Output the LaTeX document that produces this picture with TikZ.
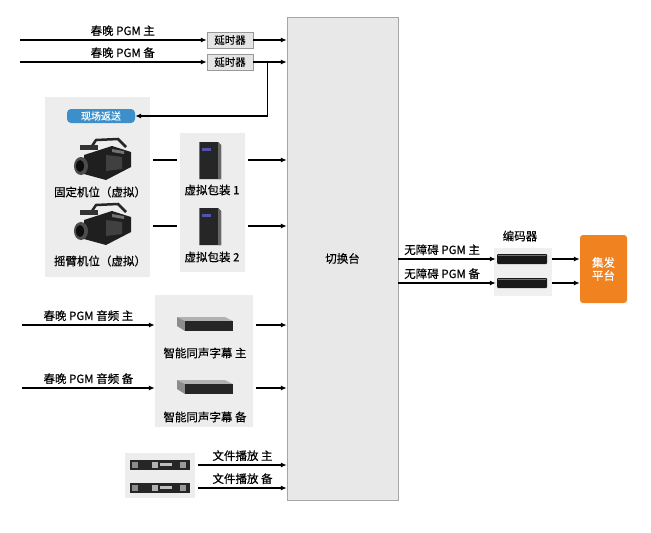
\documentclass[tikz,border=0pt]{standalone}
\usepackage{fontspec}
\setmainfont{Noto Sans CJK SC}[FakeBold=0.3]
\usetikzlibrary{arrows.meta, positioning, calc}

\definecolor{panelgray}{HTML}{EDEDED}
\definecolor{swgray}{HTML}{E8E8E8}
\definecolor{fbblue}{HTML}{3C8FC9}
\definecolor{platorange}{HTML}{F18220}

\begin{document}
\begin{tikzpicture}[
	x=1pt, y=-1pt,
	font=\fontsize{11.5}{13}\selectfont,
	panel/.style={fill=panelgray, draw=none, inner sep=0},
	switcher/.style={fill=swgray, draw=black!35, inner sep=0},
	delaybox/.style={fill=black!10, draw=black!40, minimum width=46, minimum height=16, inner sep=0, font=\fontsize{10.5}{11}\selectfont},
	fbbox/.style={fill=fbblue, text=white, rounded corners=4pt, minimum width=68, minimum height=14, inner sep=0, font=\fontsize{10}{11}\selectfont},
	platbox/.style={fill=platorange, text=white, rounded corners=3pt, minimum width=47, minimum height=68, align=center, inner sep=0},
	arrow/.style={-{Latex[length=6pt,width=5pt]}, line width=1.3pt},
	link/.style={line width=1.3pt},
	camera/.style={minimum width=62, minimum height=46, inner sep=0, path picture={
		\begin{scope}[shift={(path picture bounding box.center)}]
			\draw[black!85, line width=2.5pt] (-12,-10) -- (-6,-19) -- (16,-20) -- (24,-12);
			\fill[black!80, rotate=-20] (-22,-14) rectangle (-4,-9);
			\fill[black!88] (-18,-4) -- (10,-13) -- (29,-7) -- (29,8) -- (4,21) -- (-18,15) -- cycle;
			\fill[black!75] (4,-4) -- (20,-2) -- (20,10) -- (4,12) -- cycle;
			\fill[black!70] (-21,7) ellipse (7 and 9);
			\fill[black!95] (-22,7) ellipse (4 and 6);
			\fill[black!55] (10,-10) -- (22,-8) -- (22,-5) -- (10,-7) -- cycle;
		\end{scope}}},
	server/.style={minimum width=26, minimum height=40, inner sep=0, path picture={
		\begin{scope}[shift={(path picture bounding box.center)}]
			\fill[black!85] (-11,-18) -- (8,-18) -- (11,-15) -- (11,19) -- (-11,19) -- cycle;
			\fill[black!60] (8,-18) -- (11,-15) -- (11,19) -- (8,19) -- cycle;
			\fill[black!55] (-11,-18) rectangle (-10,19);
			\fill[blue!35!gray] (-8,-12) rectangle (1,-9);
		\end{scope}}},
	subdev/.style={minimum width=60, minimum height=18, inner sep=0, path picture={
		\begin{scope}[shift={(path picture bounding box.center)}]
			\fill[black!30] (-28,-8) -- (20,-8) -- (28,-4) -- (-20,-4) -- cycle;
			\fill[black!45] (-28,-8) -- (-20,-4) -- (-20,6) -- (-28,1) -- cycle;
			\fill[black!85] (-20,-4) rectangle (28,6);
		\end{scope}}},
	filedev/.style={minimum width=62, minimum height=12, inner sep=0, path picture={
		\begin{scope}[shift={(path picture bounding box.center)}]
			\fill[black!85] (-30,-5) rectangle (30,5);
			\fill[black!45] (-28,-3) rectangle (-22,3);
			\fill[black!30] (-8,-3) rectangle (-2,3);
			\fill[black!25] (0,-2) rectangle (12,1);
			\fill[black!40] (20,-3) rectangle (26,3);
		\end{scope}}},
	encdev/.style={minimum width=52, minimum height=12, inner sep=0, path picture={
		\begin{scope}[shift={(path picture bounding box.center)}]
			\fill[black!90, rounded corners=1pt] (-25,-5) rectangle (25,5);
			\fill[black!55] (-24,-4) rectangle (24,-3);
		\end{scope}}}
	]

	\path[use as bounding box] (0,0) rectangle (651,533);

	% Switcher
	\node[switcher, minimum width=111, minimum height=483] (sw) at (342.5,258.5) {切换台};

	% Panels
	\node[panel, minimum width=105, minimum height=180] (lp) at (97.5,187) {};
	\node[panel, minimum width=65, minimum height=139] (mp) at (212.5,202.5) {};
	\node[panel, minimum width=98, minimum height=132] (sp) at (204,361) {};
	\node[panel, minimum width=70, minimum height=45] (fp) at (160,475.5) {};
	\node[panel, fill=black!6, minimum width=58, minimum height=48] (ep) at (523,272) {};

	% PGM feeds and delays
	\coordinate (pgm1) at (20,40);
	\coordinate (pgm2) at (20,62);
	\node[delaybox] (dly1) at (230,40) {延时器};
	\node[delaybox] (dly2) at (230,62) {延时器};
	\draw[arrow] (pgm1) -- node[above, pos=0.55] {春晚 PGM 主} (dly1.west);
	\draw[arrow] (pgm2) -- node[above, pos=0.55] {春晚 PGM 备} (dly2.west);
	\draw[arrow] (dly1.east) -- (dly1.east -| sw.west);
	\draw[arrow] (dly2.east) -- (dly2.east -| sw.west);

	% Return feed
	\node[fbbox] (fb) at (101,116) {现场返送};
	\coordinate (tap) at ($(dly2.east)+(14,0)$);
	\draw[arrow] (tap) |- (fb.east);

	% Cameras and virtual packaging
	\node[camera] (cam1) at (102,159) {};
	\node[camera] (cam2) at (102,224) {};
	\node (cam1-lbl) at (100,192) {固定机位（虚拟）};
	\node (cam2-lbl) at (100,261) {摇臂机位（虚拟）};
	\node[server] (srv1) at (210,160) {};
	\node[server] (srv2) at (210,226) {};
	\node (srv1-lbl) at (212,190) {虚拟包装 1};
	\node (srv2-lbl) at (212,257) {虚拟包装 2};
	\draw[link] ($(lp.east |- srv1)+(3,0)$) -- ($(mp.west |- srv1)-(3,0)$);
	\draw[link] ($(lp.east |- srv2)+(3,0)$) -- ($(mp.west |- srv2)-(3,0)$);
	\draw[arrow] ($(mp.east |- srv1)+(3,0)$) -- (srv1 -| sw.west);
	\draw[arrow] ($(mp.east |- srv2)+(3,0)$) -- (srv2 -| sw.west);

	% Subtitles
	\node[subdev] (sub1) at (205,325) {};
	\node[subdev] (sub2) at (205,388) {};
	\node (sub1-lbl) at (205,353) {智能同声字幕\ 主};
	\node (sub2-lbl) at (205,417) {智能同声字幕\ 备};
	\coordinate (aud1) at (22,325);
	\coordinate (aud2) at (22,388);
	\draw[arrow] (aud1) -- node[above] {春晚 PGM 音频 主} (aud1 -| sp.west);
	\draw[arrow] (aud2) -- node[above] {春晚 PGM 音频 备} (aud2 -| sp.west);
	\draw[arrow] ($(sp.east |- sub1)+(3,0)$) -- (sub1 -| sw.west);
	\draw[arrow] ($(sp.east |- sub2)+(3,0)$) -- (sub2 -| sw.west);

	% File playback
	\node[filedev] (fil1) at (160,465) {};
	\node[filedev] (fil2) at (160,488) {};
	\draw[arrow] ($(fp.east |- fil1)+(3,0)$) -- node[above] {文件播放 主} (fil1 -| sw.west);
	\draw[arrow] ($(fp.east |- fil2)+(3,0)$) -- node[above] {文件播放 备} (fil2 -| sw.west);

	% Encoders and platform
	\node[encdev] (enc1) at (522,259) {};
	\node[encdev] (enc2) at (522,283) {};
	\node (enc-lbl) at (520,236) {编码器};
	\node[platbox] (plat) at (603.5,269) {集发\\平台};
	\draw[arrow] (enc1 -| sw.east) -- node[above, pos=0.45] {无障碍 PGM 主} (enc1.west);
	\draw[arrow] (enc2 -| sw.east) -- node[above, pos=0.45] {无障碍 PGM 备} (enc2.west);
	\draw[arrow] ($(enc1.east)+(4,0)$) -- (enc1 -| plat.west);
	\draw[arrow] ($(enc2.east)+(4,0)$) -- (enc2 -| plat.west);

\end{tikzpicture}
\end{document}
